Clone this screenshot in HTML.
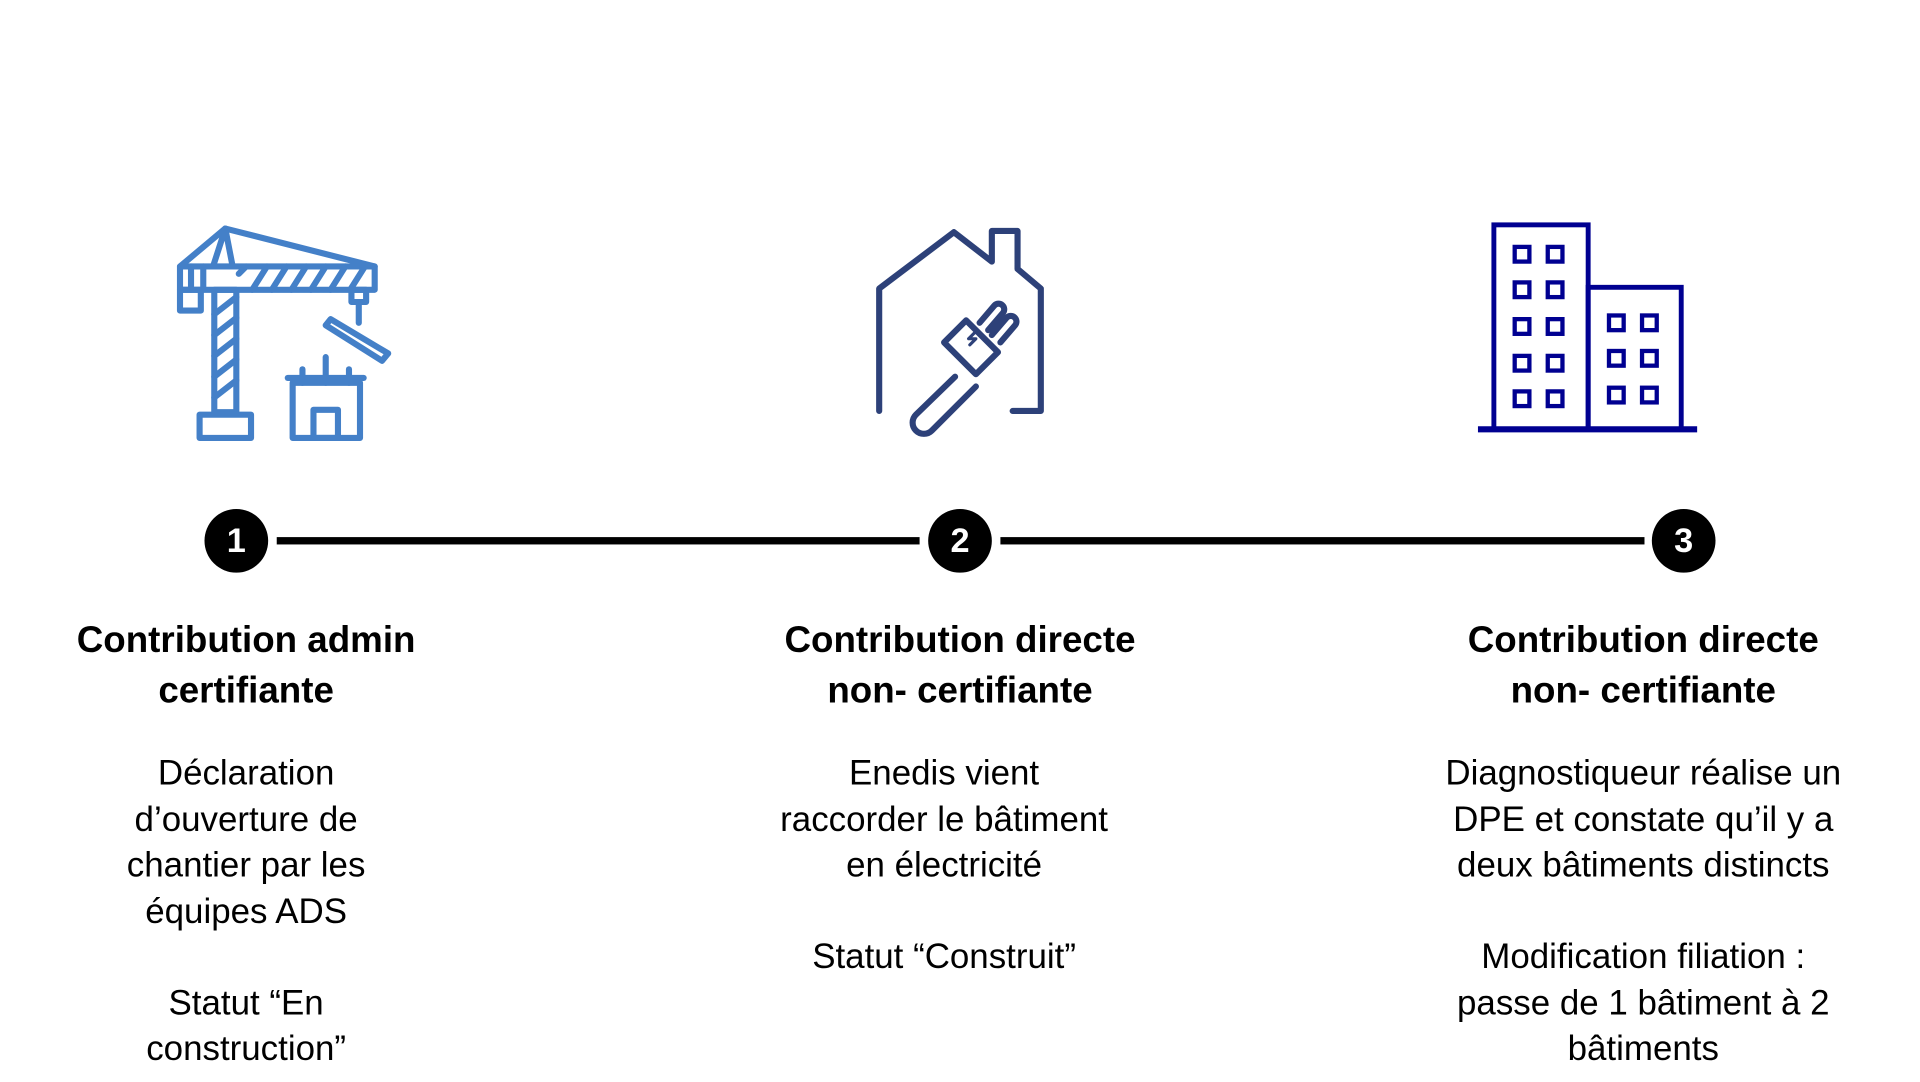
<!DOCTYPE html>
<html><head><meta charset="utf-8">
<style>
html,body{margin:0;padding:0;background:#fff;width:1920px;height:1080px;overflow:hidden}
#f{position:absolute;left:0;top:2px;width:1568px;height:882px;transform:scale(1.22449);transform-origin:0 0;font-family:"Liberation Sans",sans-serif;color:#000}
.h{position:absolute;width:440px;text-align:center;font-weight:bold;font-size:30px;line-height:40.5px}
.b{position:absolute;width:440px;text-align:center;font-size:28.5px;line-height:37.5px}
.c{position:absolute;width:52px;height:52px;border-radius:50%;background:#000;color:#fff;font-weight:bold;font-size:28px;line-height:52px;text-align:center}
.l{position:absolute;height:6px;background:#000;top:437px}
</style></head><body>
<div id="f">
<svg width="1568" height="882" style="position:absolute;left:0;top:0">
<g fill="none" stroke="#4480c8" stroke-width="5" stroke-linejoin="round" stroke-linecap="round">
<rect x="147" y="216" width="159" height="19"/>
<line x1="166" y1="216" x2="166" y2="235"/><line x1="156" y1="216" x2="156" y2="235"/>
<polyline points="147,216 184,185 306,216"/>
<polyline points="174,216 184,185 190,216"/>
<rect x="147" y="235" width="17" height="17"/>
<rect x="175" y="235" width="18" height="100"/>
<path d="M195,222 l6,-6 M206,235 l12,-19 M222,235 l12,-19 M238,235 l12,-19 M254,235 l12,-19 M270,235 l12,-19 M286,235 l12,-19 M175,255 l18,-14 M175,272 l18,-14 M175,289 l18,-14 M175,306 l18,-14 M175,323 l18,-14"/>
<rect x="163" y="337" width="42" height="19"/>
<rect x="287" y="235" width="12" height="10"/>
<line x1="293" y1="245" x2="293" y2="262"/>
<polygon points="266,264 270,259 317,287 312,293"/>
<rect x="239" y="311" width="55" height="45"/>
<rect x="256" y="333" width="20" height="23"/>
<line x1="235" y1="307" x2="297" y2="307"/>
<line x1="247" y1="300" x2="247" y2="311"/><line x1="266" y1="290" x2="266" y2="311"/><line x1="285" y1="300" x2="285" y2="311"/>
</g>
<g fill="none" stroke="#2d4179" stroke-width="5" stroke-linejoin="round" stroke-linecap="round">
<polyline points="718,334 718,234 779,188 810,212 810,187 831,187 831,218 850,234 850,334 827,334"/>
<path d="M780,306 L748,337 a9,9 0 0 0 13,13 L797,314"/>
<path d="M771,278 l18,-18 l26,26 l-18,18 z"/>
<path d="M800,262 l12,-14 a4,4 0 0 1 7,6 l-12,14 M810,272 l12,-14 a4,4 0 0 1 7,6 l-12,14"/>
<path d="M796,270 l-5,5 l6,0 l-5,5" stroke-width="2.5"/>
</g>
<g fill="none" stroke="#000091" stroke-width="4">
<rect x="1220" y="182" width="77" height="167"/>
<rect x="1297" y="233" width="76" height="116"/>
<line x1="1207" y1="349" x2="1386" y2="349" stroke-width="5"/>
<g stroke-width="3.5">
<rect x="1237" y="200" width="12" height="12"/><rect x="1264" y="200" width="12" height="12"/>
<rect x="1237" y="229" width="12" height="12"/><rect x="1264" y="229" width="12" height="12"/>
<rect x="1237" y="259" width="12" height="12"/><rect x="1264" y="259" width="12" height="12"/>
<rect x="1237" y="289" width="12" height="12"/><rect x="1264" y="289" width="12" height="12"/>
<rect x="1237" y="318" width="12" height="12"/><rect x="1264" y="318" width="12" height="12"/>
<rect x="1314" y="256" width="12" height="12"/><rect x="1341" y="256" width="12" height="12"/>
<rect x="1314" y="285" width="12" height="12"/><rect x="1341" y="285" width="12" height="12"/>
<rect x="1314" y="315" width="12" height="12"/><rect x="1341" y="315" width="12" height="12"/>
</g></g>
</svg>
<div class="l" style="left:226px;width:525px"></div>
<div class="l" style="left:817px;width:526px"></div>
<div class="c" style="left:167px;top:414px">1</div>
<div class="c" style="left:758px;top:414px">2</div>
<div class="c" style="left:1349px;top:414px">3</div>

<div class="h" style="left:-19px;top:502px">Contribution admin<br>certifiante</div>
<div class="h" style="left:564px;top:502px">Contribution directe<br>non- certifiante</div>
<div class="h" style="left:1122px;top:502px">Contribution directe<br>non- certifiante</div>

<div class="b" style="left:-19px;top:612px">Déclaration<br>d’ouverture de<br>chantier par les<br>équipes ADS<br><br>Statut “En<br>construction”</div>
<div class="b" style="left:551px;top:612px">Enedis vient<br>raccorder le bâtiment<br>en électricité<br><br>Statut “Construit”</div>
<div class="b" style="left:1122px;top:612px">Diagnostiqueur réalise un<br>DPE et constate qu’il y a<br>deux bâtiments distincts<br><br>Modification filiation :<br>passe de 1 bâtiment à 2<br>bâtiments</div>
</div>
</body></html>
